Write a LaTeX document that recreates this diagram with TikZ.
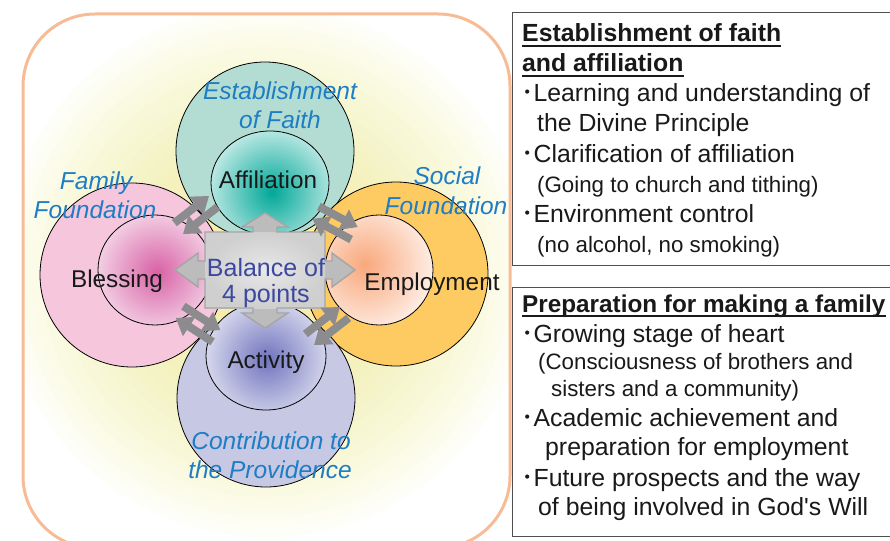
\documentclass[tikz,border=0pt]{standalone}
\usepackage{fontspec}
\setmainfont{Liberation Sans}
\newfontfamily\cjk{Noto Sans CJK JP}
\usetikzlibrary{arrows.meta,shapes.geometric}

\definecolor{frameC}{RGB}{247,188,150}
\definecolor{glowC}{RGB}{245,236,140}
\definecolor{tealBg}{RGB}{179,221,211}
\definecolor{pinkBg}{RGB}{246,198,220}
\definecolor{orangeBg}{RGB}{253,203,98}
\definecolor{lavBg}{RGB}{198,200,228}
\definecolor{tealSpot}{RGB}{0,168,152}
\definecolor{pinkSpot}{RGB}{216,98,166}
\definecolor{orangeSpot}{RGB}{249,168,124}
\definecolor{lavSpot}{RGB}{112,116,190}
\definecolor{labelBlue}{RGB}{30,125,195}
\definecolor{centerBlue}{RGB}{58,72,160}
\definecolor{arrowGray}{RGB}{140,140,142}
\definecolor{crossFill}{RGB}{188,188,188}
\definecolor{crossEdge}{RGB}{165,165,165}
\definecolor{boxEdge}{RGB}{80,80,80}
\definecolor{textC}{RGB}{25,25,25}

\begin{document}
\begin{tikzpicture}[x=1pt,y=-1pt,
  bigc/.style={circle,draw=black,line width=0.8pt,inner sep=0pt,minimum size=#1},
  innerc/.style={ellipse,draw=black,line width=0.8pt,inner sep=0pt,fill=white},
  spot/.style n args={3}{path picture={\shade[inner color=#1,outer color=white] ([xshift=#2pt,yshift=#3pt]path picture bounding box.center) circle (86pt);}},
  lab/.style={font=\fontsize{24.3}{29}\selectfont,text=textC,inner sep=0pt,anchor=base},
  blab/.style={font=\fontsize{24.5}{29}\selectfont\itshape,text=labelBlue,inner sep=0pt,anchor=base},
  clab/.style={font=\fontsize{25}{29}\selectfont,text=centerBlue,inner sep=0pt,anchor=base},
  darr/.style={draw=arrowGray,line width=8pt,-{Triangle[length=16pt,width=22pt]}},
  bt/.style={font=\fontsize{24.8}{29}\selectfont,text=textC,inner sep=0pt,anchor=base west},
  bts/.style={font=\fontsize{22.3}{27}\selectfont,text=textC,inner sep=0pt,anchor=base west},
  bh/.style={font=\fontsize{24.8}{29}\selectfont\bfseries,text=textC,inner sep=0pt,anchor=base west},
  ul/.style={draw=textC,line width=1.3pt},
  boxframe/.style={draw=boxEdge,line width=1pt},
  glowlayer/.style={fill=glowC,opacity=0.05}
]
\useasboundingbox (0,0) rectangle (890,540);
\fill[white] (0,0) rectangle (890,540);

% background glow and frame
\begin{scope}
  \clip[rounded corners=72pt] (23,14) rectangle (510,548);
  \foreach \r in {265,255,...,25} {
    \fill[glowlayer] (266,272) circle (\r pt);
  }
\end{scope}
\draw[frameC,line width=3pt,rounded corners=72pt] (23,14) rectangle (510,548);

% outer circles
\node[bigc=178pt,fill=tealBg] (faith) at (265,151) {};
\node[bigc=184pt,fill=pinkBg] (family) at (132,275) {};
\node[bigc=184pt,fill=orangeBg] (social) at (396,274) {};
\node[bigc=178pt,fill=lavBg] (provid) at (266,398) {};

% inner circles
\node[innerc,minimum width=118pt,minimum height=104pt,spot={tealSpot}{2}{-9}] (affc) at (270,183) {};
\node[innerc,minimum width=114pt,minimum height=110pt,spot={pinkSpot}{2}{-2}] (blesc) at (155,270) {};
\node[innerc,minimum width=108pt,minimum height=110pt,spot={orangeSpot}{-14}{5}] (empc) at (379,270) {};
\node[innerc,minimum width=120pt,minimum height=108pt,spot={lavSpot}{1}{-3}] (actc) at (266,356) {};

% circle labels
\node[lab] (aff) at (268,188) {Affiliation};
\node[lab] (bles) at (117,287) {Blessing};
\node[lab] (emp) at (432,290) {Employment};
\node[lab] (act) at (266,368) {Activity};

% outer italic labels
\node[blab] (faith1) at (280,100) {Establishment};
\node[blab] (faith2) at (280,129) {of Faith};
\node[blab] (fam1) at (96,189) {Family};
\node[blab] (fam2) at (95,218) {Foundation};
\node[blab] (soc1) at (447,184) {Social};
\node[blab] (soc2) at (446,214) {Foundation};
\node[blab] (con1) at (271,449) {Contribution to};
\node[blab] (con2) at (270,478) {the Providence};

% centre four-way arrow box
\begin{scope}[shift={(265,270)}]
  \coordinate (cross) at (0,0);
  \fill[crossFill] (-60,-38) -- (-12,-38) -- (-12,-43) -- (-23,-43) -- (0,-57) -- (23,-43) -- (12,-43) -- (12,-38)
    -- (60,-38) -- (60,-9) -- (67,-9) -- (67,-17) -- (90,0) -- (67,17) -- (67,9) -- (60,9)
    -- (60,38) -- (12,38) -- (12,43) -- (23,43) -- (0,58) -- (-23,43) -- (-12,43) -- (-12,38)
    -- (-60,38) -- (-60,9) -- (-67,9) -- (-67,17) -- (-90,0) -- (-67,-17) -- (-67,-9) -- (-60,-9) -- cycle;
  \shade[inner color=gray!18,outer color=gray!38] (-60,-38) rectangle (60,38);
  \draw[crossEdge,line width=1.4pt,line join=miter] (-60,-38) -- (-12,-38) -- (-12,-43) -- (-23,-43) -- (0,-57) -- (23,-43) -- (12,-43) -- (12,-38)
    -- (60,-38) -- (60,-9) -- (67,-9) -- (67,-17) -- (90,0) -- (67,17) -- (67,9) -- (60,9)
    -- (60,38) -- (12,38) -- (12,43) -- (23,43) -- (0,58) -- (-23,43) -- (-12,43) -- (-12,38)
    -- (-60,38) -- (-60,9) -- (-67,9) -- (-67,17) -- (-90,0) -- (-67,-17) -- (-67,-9) -- (-60,-9) -- cycle;
\end{scope}
\node[clab] (bal1) at (266,276) {Balance of};
\node[clab] (bal2) at (266,302) {4 points};

% diagonal double arrows
\begin{scope}[shift={(196,215)},rotate=38]
  \coordinate (ulA) at (-22,-7); \coordinate (ulB) at (22,-7);
  \coordinate (ulC) at (22,7); \coordinate (ulD) at (-22,7);
  \draw[darr] (ulA) -- (ulB); \draw[darr] (ulC) -- (ulD);
\end{scope}
\begin{scope}[shift={(335,223)},rotate=-28]
  \coordinate (urA) at (-22,-7); \coordinate (urB) at (22,-7);
  \coordinate (urC) at (22,7); \coordinate (urD) at (-22,7);
  \draw[darr] (urA) -- (urB); \draw[darr] (urC) -- (urD);
\end{scope}
\begin{scope}[shift={(198,324)},rotate=-33]
  \coordinate (llA) at (-22,-7); \coordinate (llB) at (22,-7);
  \coordinate (llC) at (22,7); \coordinate (llD) at (-22,7);
  \draw[darr] (llA) -- (llB); \draw[darr] (llC) -- (llD);
\end{scope}
\begin{scope}[shift={(327,326)},rotate=38]
  \coordinate (lrA) at (-22,-7); \coordinate (lrB) at (22,-7);
  \coordinate (lrC) at (22,7); \coordinate (lrD) at (-22,7);
  \draw[darr] (lrA) -- (lrB); \draw[darr] (lrC) -- (lrD);
\end{scope}

% right boxes
\draw[boxframe] (512,13) rectangle (896,265);
\draw[boxframe] (512,287) rectangle (896,536);

\node[bh] (h1) at (522,42) {Establishment of faith};
\node[bh] (h2) at (522,72) {and affiliation};
\draw[ul] ([yshift=-4pt]h1.base west) -- ([yshift=-4pt]h1.base east);
\draw[ul] ([yshift=-4pt]h2.base west) -- ([yshift=-4pt]h2.base east);
\node[bt] (b1) at (521,102) {{\cjk ･}Learning and understanding of};
\node[bt] (b2) at (537,132) {the Divine Principle};
\node[bt] (b3) at (521,162) {{\cjk ･}Clarification of affiliation};
\node[bts] (b4) at (537,192) {(Going to church and tithing)};
\node[bt] (b5) at (521,222) {{\cjk ･}Environment control};
\node[bts] (b6) at (537,252) {(no alcohol, no smoking)};

\node[bh,font=\fontsize{24.3}{29}\selectfont\bfseries] (h3) at (522,312) {Preparation for making a family};
\draw[ul] ([yshift=-4pt]h3.base west) -- ([yshift=-4pt]h3.base east);
\node[bt] (c1) at (521,342) {{\cjk ･}Growing stage of heart};
\node[bts] (c2) at (538,369) {(Consciousness of brothers and};
\node[bts] (c3) at (551,396) {sisters and a community)};
\node[bt] (c4) at (521,426) {{\cjk ･}Academic achievement and};
\node[bt] (c5) at (545,455) {preparation for employment};
\node[bt] (c6) at (521,486) {{\cjk ･}Future prospects and the way};
\node[bt] (c7) at (538,515) {of being involved in God\textquotesingle s Will};
\end{tikzpicture}
\end{document}
